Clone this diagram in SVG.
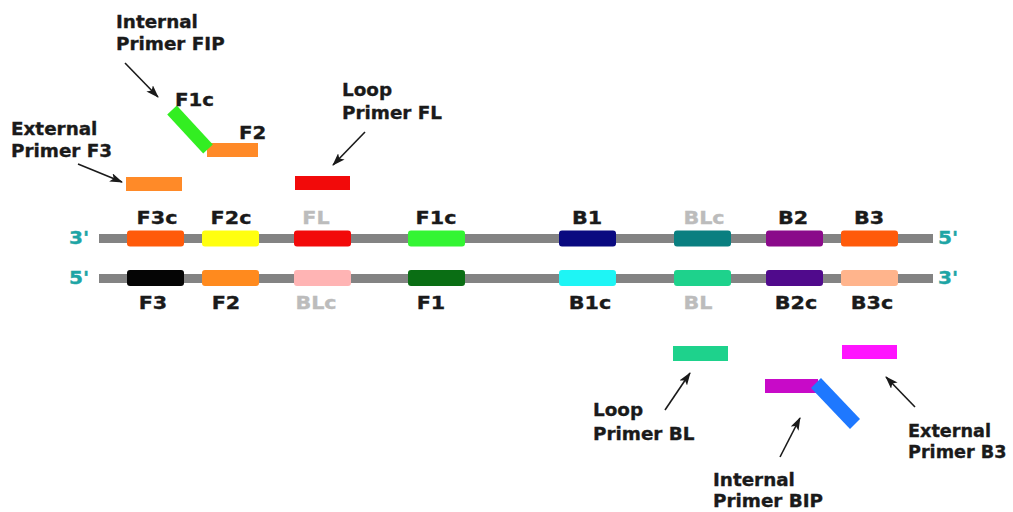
<svg xmlns="http://www.w3.org/2000/svg" width="1013" height="512" viewBox="0 0 1013 512">
<style>
.t{font-family:"DejaVu Sans","Verdana",sans-serif;font-weight:bold;font-size:18px;fill:#1a1a1a;stroke:#1a1a1a;stroke-width:0.35}
.g{fill:#bcbcbc;stroke:#bcbcbc}
.e{fill:#1ea5a5;stroke:#1ea5a5}
.m{text-anchor:middle}
.strand{fill:#838383}
.arrow{stroke:#1a1a1a;stroke-width:1.6;fill:none;marker-end:url(#ah)}
</style>
<defs>
<marker id="ah" markerUnits="userSpaceOnUse" markerWidth="13" markerHeight="9" viewBox="0 0 13 9" refX="12" refY="4.5" orient="auto">
<path d="M0,0 L13,4.5 L0,9 L3,4.5 z" fill="#1a1a1a"/>
</marker>
</defs>
<rect width="1013" height="512" fill="#ffffff"/>

<g id="strands">
<rect class="strand" x="99" y="234" width="834" height="9"/>
<rect class="strand" x="99" y="274" width="834" height="9"/>
<text class="t e m" transform="translate(79,244) scale(1.12,1)">3'</text>
<text class="t e m" transform="translate(79,284) scale(1.12,1)">5'</text>
<text class="t e m" transform="translate(948,244) scale(1.12,1)">5'</text>
<text class="t e m" transform="translate(948,284) scale(1.12,1)">3'</text>
</g>

<g id="top-segments">
<rect x="127" y="230.5" width="57" height="16" rx="3" fill="#ff5a0a"/>
<rect x="202" y="230.5" width="57" height="16" rx="3" fill="#ffff10"/>
<rect x="294" y="230.5" width="57" height="16" rx="3" fill="#f20a0a"/>
<rect x="408" y="230.5" width="57" height="16" rx="3" fill="#33f533"/>
<rect x="559" y="230.5" width="57" height="16" rx="3" fill="#0a0a80"/>
<rect x="674" y="230.5" width="57" height="16" rx="3" fill="#0a7f80"/>
<rect x="766" y="230.5" width="57" height="16" rx="3" fill="#8a0a8a"/>
<rect x="841" y="230.5" width="57" height="16" rx="3" fill="#ff5a0a"/>
<text class="t m" transform="translate(157,224) scale(1.15,1)">F3c</text>
<text class="t m" transform="translate(231,224) scale(1.15,1)">F2c</text>
<text class="t g m" transform="translate(316,224) scale(1.15,1)">FL</text>
<text class="t m" transform="translate(436,224) scale(1.15,1)">F1c</text>
<text class="t m" transform="translate(587,224) scale(1.15,1)">B1</text>
<text class="t g m" transform="translate(704,224) scale(1.15,1)">BLc</text>
<text class="t m" transform="translate(793,224) scale(1.15,1)">B2</text>
<text class="t m" transform="translate(869,224) scale(1.15,1)">B3</text>
</g>

<g id="bottom-segments">
<rect x="127" y="270" width="57" height="16" rx="3" fill="#050505"/>
<rect x="202" y="270" width="57" height="16" rx="3" fill="#ff8a1e"/>
<rect x="294" y="270" width="57" height="16" rx="3" fill="#ffb4b4"/>
<rect x="408" y="270" width="57" height="16" rx="3" fill="#0a6e14"/>
<rect x="559" y="270" width="57" height="16" rx="3" fill="#1ef5f5"/>
<rect x="674" y="270" width="57" height="16" rx="3" fill="#1ed28c"/>
<rect x="766" y="270" width="57" height="16" rx="3" fill="#500a8c"/>
<rect x="841" y="270" width="57" height="16" rx="3" fill="#ffb48c"/>
<text class="t m" transform="translate(153,309) scale(1.15,1)">F3</text>
<text class="t m" transform="translate(226,309) scale(1.15,1)">F2</text>
<text class="t g m" transform="translate(316,309) scale(1.15,1)">BLc</text>
<text class="t m" transform="translate(431,309) scale(1.15,1)">F1</text>
<text class="t m" transform="translate(590,309) scale(1.15,1)">B1c</text>
<text class="t g m" transform="translate(698,309) scale(1.15,1)">BL</text>
<text class="t m" transform="translate(796,309) scale(1.15,1)">B2c</text>
<text class="t m" transform="translate(872,309) scale(1.15,1)">B3c</text>
</g>

<g id="primer-F3">
<rect x="126" y="177" width="56" height="14" fill="#ff8a28"/>
<text class="t" transform="translate(11,135) scale(1.02,1)">External</text>
<text class="t" transform="translate(11,157) scale(1.02,1)">Primer F3</text>
</g>

<g id="primer-FIP">
<rect x="207" y="143" width="51" height="14" fill="#ff8a28"/>
<polygon points="176.8,105.6 212.8,144.6 203.2,153.4 167.2,114.4" fill="#33ee22"/>
<text class="t" transform="translate(116,28) scale(1.02,1)">Internal</text>
<text class="t" transform="translate(116,50) scale(1.02,1)">Primer FIP</text>
<text class="t" transform="translate(175,106) scale(1.1,1)">F1c</text>
<text class="t" transform="translate(239,139) scale(1.1,1)">F2</text>
</g>

<g id="primer-FL">
<rect x="295" y="176" width="55" height="14" fill="#f20a0a"/>
<text class="t" transform="translate(342,96) scale(1.02,1)">Loop</text>
<text class="t" transform="translate(342,119) scale(1.02,1)">Primer FL</text>
</g>

<g id="primer-BL">
<rect x="673" y="346" width="55" height="15" fill="#1ed28c"/>
<text class="t" transform="translate(593,416) scale(1.02,1)">Loop</text>
<text class="t" transform="translate(593,440) scale(1.02,1)">Primer BL</text>
</g>

<g id="primer-BIP">
<rect x="765" y="379" width="53" height="14" fill="#c80ac8"/>
<polygon points="821,378 860,419 850,429 811,388" fill="#1e78ff"/>
<text class="t" transform="translate(713,486) scale(1.02,1)">Internal</text>
<text class="t" transform="translate(713,507) scale(1.02,1)">Primer BIP</text>
</g>

<g id="primer-B3">
<rect x="842" y="345" width="55" height="14" fill="#ff14ff"/>
<text class="t" transform="translate(908,437) scale(0.98,1)">External</text>
<text class="t" transform="translate(908,458) scale(0.98,1)">Primer B3</text>
</g>

<g id="connectors">
<line class="arrow" x1="78" y1="164" x2="122" y2="182"/>
<line class="arrow" x1="125" y1="63" x2="158" y2="97"/>
<line class="arrow" x1="365" y1="132" x2="333" y2="165"/>
<line class="arrow" x1="665" y1="410" x2="690" y2="373"/>
<line class="arrow" x1="780" y1="457" x2="800" y2="418"/>
<line class="arrow" x1="915" y1="407" x2="886" y2="377"/>
</g>
</svg>
